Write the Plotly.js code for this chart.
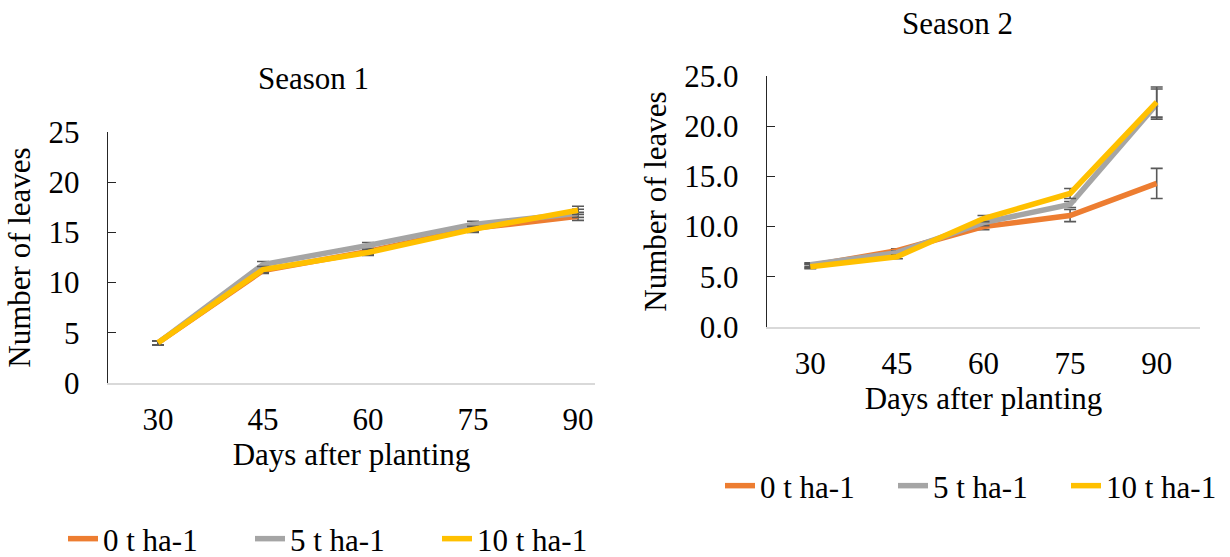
<!DOCTYPE html>
<html>
<head>
<meta charset="utf-8">
<script src="https://cdn.plot.ly/plotly-3.0.1.min.js"></script>
<style>html,body{margin:0;padding:0;background:#fff;}#chart{width:1230px;height:557px;}</style>
</head>
<body>
<div id="chart"></div>
<script>
// Data
const days = [30, 45, 60, 75, 90];
const seriesNames = ["0 t ha-1", "5 t ha-1", "10 t ha-1"];
const seriesColors = ["#ED7D31", "#A5A5A5", "#FFC000"];

// Season 1 (number of leaves)
const s1_0t = [4.0, 11.2, 13.1, 15.4, 16.6];
const s1_5t = [4.0, 11.8, 13.7, 15.8, 16.9];
const s1_10t = [4.0, 11.3, 13.0, 15.3, 17.2];
const s1_err_0t = [0.2, 0.3, 0.3, 0.3, 0.4];
const s1_err_5t = [0.2, 0.3, 0.3, 0.3, 0.4];
const s1_err_10t = [0.2, 0.3, 0.3, 0.3, 0.4];

// Season 2 (number of leaves)
const s2_0t = [6.1, 7.6, 10.0, 11.1, 14.3];
const s2_5t = [6.2, 7.4, 10.4, 12.2, 22.2];
const s2_10t = [6.0, 7.0, 10.8, 13.3, 22.4];
const s2_err_0t = [0.2, 0.2, 0.3, 0.6, 1.5];
const s2_err_5t = [0.2, 0.2, 0.3, 0.3, 1.5];
const s2_err_10t = [0.2, 0.2, 0.3, 0.5, 1.5];

const FONT = "Liberation Serif, Times New Roman, serif";
const FS = 31;

function trace(x, y, err, i, xa, ya, legendId) {
  return {
    type: "scatter", mode: "lines", x: x, y: y,
    name: seriesNames[i], xaxis: xa, yaxis: ya, legend: legendId,
    line: {color: seriesColors[i], width: 5.5},
    error_y: {type: "data", array: err, visible: true, color: "#595959", thickness: 1.6, width: 6}
  };
}

const data = [
  trace(days, s1_0t, s1_err_0t, 0, "x", "y", "legend"),
  trace(days, s1_5t, s1_err_5t, 1, "x", "y", "legend"),
  trace(days, s1_10t, s1_err_10t, 2, "x", "y", "legend"),
  trace(days, s2_0t, s2_err_0t, 0, "x2", "y2", "legend2"),
  trace(days, s2_5t, s2_err_5t, 1, "x2", "y2", "legend2"),
  trace(days, s2_10t, s2_err_10t, 2, "x2", "y2", "legend2")
];

const xCommon = {
  tickvals: days, ticktext: days.map(String), showgrid: false, zeroline: false,
  showline: true, linecolor: "#D9D9D9", linewidth: 2, ticks: "",
  tickfont: {family: FONT, size: FS, color: "#000"}, ticklabelstandoff: 8,
  automargin: false
};
const yCommon = {
  range: [0, 25], tickvals: [0, 5, 10, 15, 20, 25], showgrid: false, zeroline: false,
  showline: true, linecolor: "#262626", linewidth: 1.3, ticks: "inside", ticklen: 8,
  tickcolor: "#262626", tickwidth: 1.3,
  tickfont: {family: FONT, size: FS, color: "#000"}, ticklabelstandoff: 21,
  automargin: false
};

const layout = {
  width: 1230, height: 557,
  margin: {l: 0, r: 0, t: 0, b: 0, autoexpand: false},
  paper_bgcolor: "#fff", plot_bgcolor: "#fff",
  font: {family: FONT, size: FS, color: "#000"},
  xaxis: Object.assign({}, xCommon, {
    domain: [108 / 1230, 595 / 1230], range: [30 - 50 / 7, 90 + 17 / 7], anchor: "y",
    title: {text: "Days after planting", font: {family: FONT, size: FS, color: "#000"}, standoff: 3}
  }),
  yaxis: Object.assign({}, yCommon, {
    domain: [1 - 383 / 557, 1 - 132 / 557], anchor: "x",
    tickformat: "d",
    title: {text: "Number of leaves", font: {family: FONT, size: FS, color: "#000"}, standoff: 8}
  }),
  xaxis2: Object.assign({}, xCommon, {
    domain: [767 / 1230, 1200 / 1230], range: [22.5, 97.5], anchor: "y2",
    title: {text: "Days after planting", font: {family: FONT, size: FS, color: "#000"}, standoff: 2}
  }),
  yaxis2: Object.assign({}, yCommon, {
    domain: [1 - 327 / 557, 1 - 76 / 557], anchor: "x2",
    tickformat: ".1f",
    title: {text: "Number of leaves", font: {family: FONT, size: FS, color: "#000"}, standoff: 8}
  }),
  legend: {
    orientation: "h", x: 63 / 1230, xanchor: "left", y: 1 - 539 / 557, yanchor: "middle",
    font: {family: FONT, size: FS, color: "#000"}, entrywidth: 142, entrywidthmode: "pixels",
    bgcolor: "rgba(0,0,0,0)", itemclick: false
  },
  legend2: {
    orientation: "h", x: 720 / 1230, xanchor: "left", y: 1 - 486 / 557, yanchor: "middle",
    font: {family: FONT, size: FS, color: "#000"}, entrywidth: 128, entrywidthmode: "pixels",
    bgcolor: "rgba(0,0,0,0)", itemclick: false
  },
  annotations: [
    {text: "Season 1", xref: "paper", yref: "paper", x: 313 / 1230, y: 1 - 78 / 557,
     xanchor: "center", yanchor: "middle", showarrow: false, font: {family: FONT, size: FS, color: "#000"}},
    {text: "Season 2", xref: "paper", yref: "paper", x: 957 / 1230, y: 1 - 24 / 557,
     xanchor: "center", yanchor: "middle", showarrow: false, font: {family: FONT, size: FS, color: "#000"}}
  ],
  showlegend: true
};

Plotly.newPlot("chart", data, layout, {staticPlot: true, displayModeBar: false});
</script>
</body>
</html>
